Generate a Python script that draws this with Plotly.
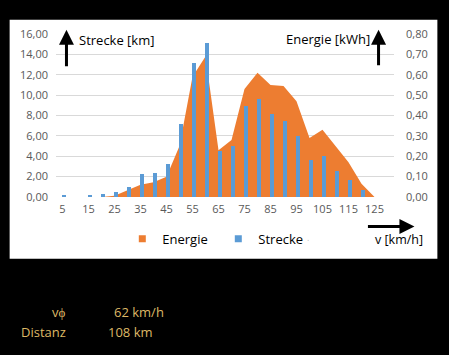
import plotly.graph_objects as go

# ---- data ----
speeds = [5, 10, 15, 20, 25, 30, 35, 40, 45, 50, 55, 60, 65, 70, 75, 80, 85, 90, 95, 100, 105, 110, 115, 120, 125]
strecke_km = [0.2, 0, 0.1, 0.3, 0.5, 1.0, 2.3, 2.4, 3.2, 7.2, 13.2, 15.1, 4.5, 5.0, 8.9, 9.6, 8.1, 7.5, 6.0, 3.6, 4.0, 2.6, 1.7, 0.65, 0]
energie_kwh = [0, 0, 0, 0, 0.006, 0.032, 0.06, 0.072, 0.10, 0.25, 0.59, 0.69, 0.23, 0.28, 0.53, 0.61, 0.55, 0.545, 0.47, 0.29, 0.33, 0.25, 0.17, 0.065, 0]
x_ticks = [5, 15, 25, 35, 45, 55, 65, 75, 85, 95, 105, 115, 125]
left_ticks = [0, 2, 4, 6, 8, 10, 12, 14, 16]
right_ticks = [0, 0.1, 0.2, 0.3, 0.4, 0.5, 0.6, 0.7, 0.8]
avg_speed_text = "62 km/h"
distance_text = "108 km"

ORANGE = "#ED7D31"
BLUE = "#5B9BD5"
GRID = "#D9D9D9"
TICK = "#595959"
GOLD = "#DDB866"
FONT = "Open Sans"

W, H = 449, 355
L, R, T, B = 55.5, 394.5, 34.3, 197.3


def px(x):
    return (x - L) / (R - L)


def py(y):
    return (B - y) / (B - T)


def fmt(v):
    return f"{v:.2f}".replace(".", ",")


fig = go.Figure()
fig.add_trace(go.Scatter(x=speeds, y=energie_kwh, mode="lines", fill="tozeroy",
                         fillcolor=ORANGE, line=dict(width=0, color=ORANGE),
                         yaxis="y", showlegend=False, name="Energie", hoverinfo="skip"))
fig.add_trace(go.Bar(x=speeds, y=strecke_km, width=1.5, offset=-0.15,
                     marker=dict(color=BLUE, line=dict(width=0)),
                     yaxis="y2", showlegend=False, name="Strecke", hoverinfo="skip"))
# legend entries
fig.add_trace(go.Scatter(x=[None], y=[None], mode="markers", name="Energie",
                         marker=dict(symbol="square", size=7, color=ORANGE)))
fig.add_trace(go.Scatter(x=[None], y=[None], mode="markers", name="Strecke",
                         marker=dict(symbol="square", size=7, color=BLUE)))

ann = []
ann.append(dict(text="Strecke [km]", x=px(77), y=py(40), xanchor="left", yanchor="middle",
                showarrow=False, font=dict(size=13, color="black")))
ann.append(dict(text="Energie [kWh]", x=px(372), y=py(39), xanchor="right", yanchor="middle",
                showarrow=False, font=dict(size=13, color="black")))
ann.append(dict(text="v [km/h]", x=px(373), y=py(240), xanchor="left", yanchor="middle",
                showarrow=False, font=dict(size=12.5, color="black")))
ann.append(dict(text=".", x=px(308), y=py(238), xanchor="center", yanchor="middle",
                showarrow=False, font=dict(size=9, color="#BFBFBF")))
# arrows
for (x, ytip, ytail) in [(66, 30, 68), (379, 30, 67)]:
    ann.append(dict(text="", x=px(x), y=py(ytip), ax=0, ay=ytail - ytip, showarrow=True,
                    arrowhead=2, arrowsize=1, arrowwidth=3, arrowcolor="black", standoff=0,
                    startstandoff=0))
ann.append(dict(text="", x=px(415), y=py(226.7), ax=-48, ay=0, showarrow=True,
                arrowhead=2, arrowsize=1, arrowwidth=3, arrowcolor="black", standoff=0))
# bottom info text
ann.append(dict(text="vϕ", x=px(67), y=py(312), xanchor="right", yanchor="middle",
                showarrow=False, font=dict(size=13, color=GOLD)))
ann.append(dict(text="Distanz", x=px(68), y=py(332), xanchor="right", yanchor="middle",
                showarrow=False, font=dict(size=13, color=GOLD)))
ann.append(dict(text=avg_speed_text, x=px(112), y=py(312), xanchor="left", yanchor="middle",
                showarrow=False, font=dict(size=13, color=GOLD)))
ann.append(dict(text=distance_text, x=px(106), y=py(332), xanchor="left", yanchor="middle",
                showarrow=False, font=dict(size=13, color=GOLD)))
for a in ann:
    a["xref"] = "paper"
    a["yref"] = "paper"

fig.update_layout(
    width=W, height=H,
    margin=dict(l=L, r=W - R, t=T, b=H - B, pad=0, autoexpand=False),
    paper_bgcolor="black",
    plot_bgcolor="rgba(0,0,0,0)",
    font=dict(family=FONT, size=11, color=TICK),
    bargap=0,
    hovermode=False,
    shapes=[dict(type="rect", xref="paper", yref="paper", x0=px(9), x1=px(438),
                 y0=py(259), y1=py(20), fillcolor="white", line=dict(width=0), layer="below")],
    annotations=ann,
    xaxis=dict(range=[2.5, 132.5], tickvals=x_ticks, ticktext=[str(v) for v in x_ticks],
               showgrid=False, zeroline=False, showline=False, ticks="",
               tickfont=dict(size=11, color=TICK), ticklabelstandoff=4, fixedrange=True),
    yaxis=dict(side="right", range=[0, 0.8], tickvals=right_ticks,
               ticktext=[fmt(v) for v in right_ticks], showgrid=True, gridcolor=GRID,
               gridwidth=1, zeroline=False, showline=False, ticks="",
               tickfont=dict(size=11, color=TICK), ticklabelstandoff=11),
    yaxis2=dict(side="left", overlaying="y", range=[0, 16], tickvals=left_ticks,
                ticktext=[fmt(v) for v in left_ticks], showgrid=False, zeroline=False,
                showline=False, ticks="", tickfont=dict(size=11, color=TICK),
                ticklabelstandoff=7),
    legend=dict(orientation="h", x=px(122), xanchor="left", y=py(239), yanchor="middle",
                bgcolor="rgba(0,0,0,0)", font=dict(size=13, color="black"),
                itemwidth=30, traceorder="normal", entrywidth=51),
)

fig.write_html(
    "out.html",
    config={"displayModeBar": False, "staticPlot": False},
    post_script="document.body.style.margin='0';document.body.style.background='black';"
                "document.body.style.overflow='hidden';",
)
